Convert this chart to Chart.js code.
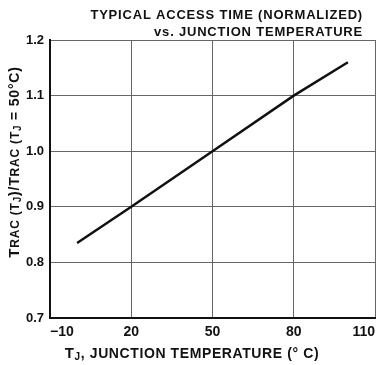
<!DOCTYPE html>
<html>
<head>
<meta charset="utf-8">
<script src="https://cdn.jsdelivr.net/npm/chart.js@4/dist/chart.umd.min.js"></script>
<style>
  html, body { margin: 0; padding: 0; background: #fff; }
  #wrap { width: 379px; height: 365px; }
</style>
</head>
<body>
<div id="wrap"><canvas id="accessChart" width="379" height="365"></canvas></div>
<script>
// values
const temps = [0, 20, 50, 80, 100];
const ratio = [0.835, 0.9, 1.0, 1.1, 1.16];
const xTicks = [-10, 20, 50, 80, 110];
const yTicks = [0.7, 0.8, 0.9, 1.0, 1.1, 1.2];

const FONT = '"Liberation Sans", Arial, sans-serif';

// draw a list of [text, size, dy] runs as one line
function drawRuns(ctx, runs, x, y, align, spacing) {
    ctx.letterSpacing = (spacing || 0) + 'px';
    let total = 0;
    runs.forEach(r => { ctx.font = 'bold ' + r[1] + 'px ' + FONT; total += ctx.measureText(r[0]).width; });
    let cx = align === 'center' ? x - total / 2 : (align === 'right' ? x - total : x);
    ctx.textAlign = 'left';
    ctx.textBaseline = 'alphabetic';
    runs.forEach(r => {
        ctx.font = 'bold ' + r[1] + 'px ' + FONT;
        ctx.fillText(r[0], cx, y + (r[2] || 0));
        cx += ctx.measureText(r[0]).width;
    });
    ctx.letterSpacing = '0px';
}

const labelsPlugin = {
    id: 'labels',
    afterDraw(chart) {
        const ctx = chart.ctx;
        ctx.save();
        ctx.fillStyle = '#111';
        // heading, right aligned
        drawRuns(ctx, [['TYPICAL ACCESS TIME (NORMALIZED)', 13]], 363, 19, 'right', 0.8);
        drawRuns(ctx, [['vs. JUNCTION TEMPERATURE', 13]], 363, 36, 'right', 0.8);
        // x axis title
        drawRuns(ctx, [['T', 15], ['J', 10, 2], [', JUNCTION TEMPERATURE (° C)', 14]], 192, 358, 'center', 0.6);
        // y axis title, rotated
        ctx.translate(19, 162);
        ctx.rotate(-Math.PI / 2);
        drawRuns(ctx, [['T', 15], ['RAC (T', 12], ['J', 10, 2], [')/T', 14], ['RAC (T', 12], ['J', 10, 2], [' = 50°C)', 14]], 0, 0, 'center', 0.8);
        ctx.restore();
    }
};

new Chart(document.getElementById('accessChart'), {
    type: 'scatter',
    data: {
        datasets: [{
            data: temps.map((t, i) => ({ x: t, y: ratio[i] })),
            showLine: true,
            borderColor: '#111',
            borderWidth: 2.5,
            pointRadius: 0,
            tension: 0
        }]
    },
    options: {
        responsive: false,
        animation: false,
        layout: { padding: { top: 40, right: 4, left: 0, bottom: 0 } },
        plugins: { legend: { display: false }, tooltip: { enabled: false } },
        scales: {
            x: {
                type: 'linear',
                min: -10, max: 110,
                afterBuildTicks: s => { s.ticks = xTicks.map(v => ({ value: v })); },
                afterFit: s => { s.height = 47; s.paddingLeft = 0; s.paddingRight = 0; },
                grid: { color: '#666', lineWidth: 1, drawTicks: false },
                border: { color: '#111', width: 2 },
                ticks: {
                    padding: 6,
                    align: 'inner',
                    color: '#111',
                    font: { family: FONT, size: 14, weight: 'bold' },
                    callback: v => v < 0 ? '\u2212' + Math.abs(v) : String(v)
                }
            },
            y: {
                min: 0.7, max: 1.2,
                afterBuildTicks: s => { s.ticks = yTicks.map(v => ({ value: v })); },
                afterFit: s => { s.width = 50; s.paddingTop = 0; s.paddingBottom = 0; },
                grid: { color: '#666', lineWidth: 1, drawTicks: false },
                border: { color: '#111', width: 2 },
                ticks: {
                    padding: 6,
                    color: '#111',
                    font: { family: FONT, size: 13, weight: 'bold' },
                    callback: v => v.toFixed(1)
                }
            }
        }
    },
    plugins: [labelsPlugin]
});
</script>
</body>
</html>
